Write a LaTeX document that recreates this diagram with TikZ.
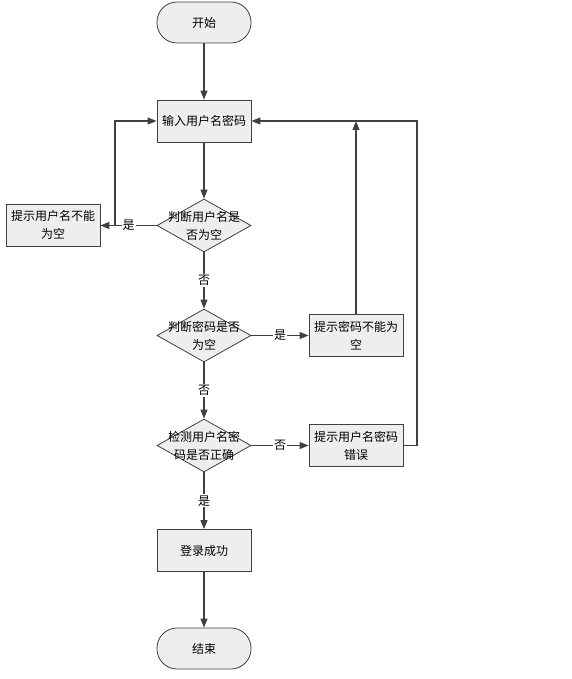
\documentclass[tikz,border=0pt]{standalone}
\usepackage{fontspec}
\setmainfont{Noto Sans CJK SC}
\usetikzlibrary{shapes.geometric,arrows.meta}
\definecolor{ln}{HTML}{404040}
\definecolor{bx}{HTML}{EEEEEE}
\begin{document}
\begin{tikzpicture}[x=1pt,y=-1pt,
  every node/.style={font=\fontsize{12}{18}\selectfont, text=black},
  term/.style={draw=ln, line width=0.8pt, fill=bx, rounded corners=20pt, minimum width=94pt, minimum height=41pt, inner sep=0pt},
  procbox/.style={draw=ln, line width=0.8pt, fill=bx, minimum width=94pt, minimum height=42pt, inner sep=0pt, align=center},
  dia/.style={draw=ln, line width=0.8pt, fill=bx, diamond, inner sep=0pt, minimum width=94pt, minimum height=53pt},
  txt/.style={align=center, inner sep=0pt},
  lab/.style={fill=white, inner sep=1pt},
  conn/.style={draw=ln, line width=1.1pt, -{Triangle[length=9pt,width=7pt]}},
  plain/.style={draw=ln, line width=1.1pt}
]
\useasboundingbox (0,0) rectangle (571,679);

\node[term] (start) at (204,22.5) {开始};
\node[procbox] (input) at (204,121) {输入用户名密码};
\node[dia] (d1) at (204,225.5) {};
\node[txt] at (d1) {判断用户名是\\否为空};
\node[procbox] (e1) at (53,225) {提示用户名不能\\为空};
\node[dia] (d2) at (204,335.5) {};
\node[txt] at (d2) {判断密码是否\\为空};
\node[procbox] (e2) at (356,335.5) {提示密码不能为\\空};
\node[dia] (d3) at (204,445.5) {};
\node[txt] at (d3) {检测用户名密\\码是否正确};
\node[procbox] (e3) at (356,445.5) {提示用户名密码\\错误};
\node[procbox] (ok) at (204,550.5) {登录成功};
\node[term] (stop) at (204,648.5) {结束};

\coordinate (j1) at (115,225.5);
\coordinate (j2) at (356,121);
\coordinate (j3) at (417,445.5);

\draw[conn] (start) -- (input);
\draw[conn] (input) -- (d1);
\draw[conn] (d1.west) -- node[lab, pos=0.5] {是} (e1.east |- d1.west);
\draw[conn] (j1) |- (input.west);
\draw[conn] (d1) -- node[lab] {否} (d2);
\draw[conn] (d2) -- node[lab] {是} (e2);
\draw[conn] (e2.north) -- (j2);
\draw[conn] (e3.east) -- (j3) |- (input.east);
\draw[conn] (d2) -- node[lab] {否} (d3);
\draw[conn] (d3) -- node[lab] {否} (e3);
\draw[conn] (d3) -- node[lab] {是} (ok);
\draw[conn] (ok) -- (stop);
\end{tikzpicture}
\end{document}
